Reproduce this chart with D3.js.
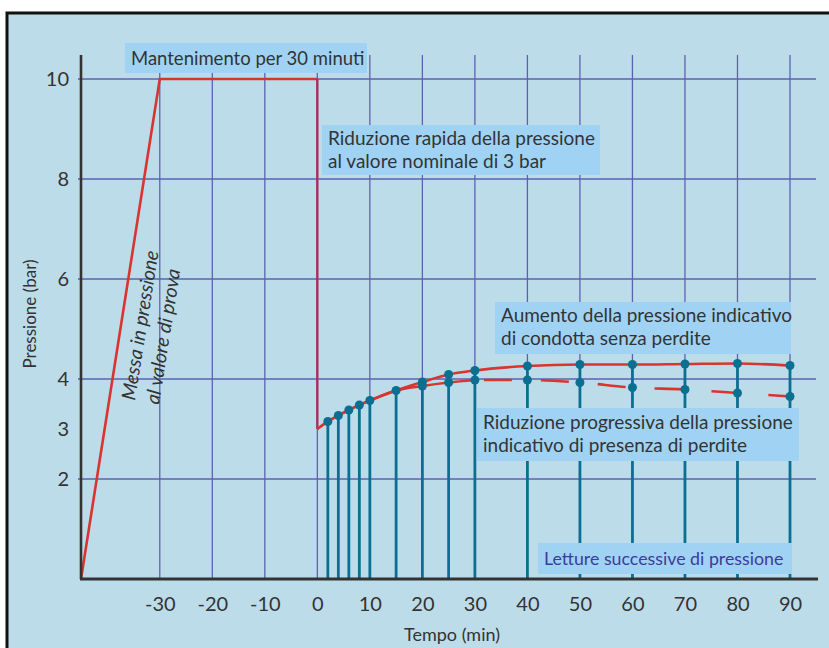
<!DOCTYPE html>
<html>
<head>
<meta charset="utf-8">
<script src="https://cdn.jsdelivr.net/npm/d3@7"></script>
<style>
  body { margin: 0; background: #fff; }
  text { font-family: Lato, "Open Sans", sans-serif; fill: #333; }
</style>
</head>
<body>
<div id="chart"></div>
<script>
// test profile: ramp, hold 30 min, rapid drop to 3 bar
const phaseTimes = [-45, -30, 0, 0];
const phasePressure = [0, 10, 10, 3];

// successive readings
const readTimes = [2, 4, 6, 8, 10, 15, 20, 25, 30, 40, 50, 60, 70, 80, 90];
const noLeak = [3.15, 3.27, 3.38, 3.48, 3.57, 3.77, 3.94, 4.09, 4.17, 4.26, 4.29, 4.29, 4.30, 4.31, 4.27];
const leakTimes = [20, 25, 30, 40, 50, 60, 70, 80, 90];
const leak = [3.86, 3.93, 3.98, 3.98, 3.93, 3.83, 3.79, 3.72, 3.65];

const xTicks = [-30, -20, -10, 0, 10, 20, 30, 40, 50, 60, 70, 80, 90];
const yTicks = [2, 3, 4, 6, 8, 10];
const yGrid = [2, 4, 6, 8, 10];

const W = 829, H = 648;
const svg = d3.select("#chart").append("svg")
  .attr("width", W).attr("height", H);

// frame
svg.append("rect")
  .attr("x", 7).attr("y", 13).attr("width", 840).attr("height", 660)
  .attr("fill", "#bddcea").attr("stroke", "#111").attr("stroke-width", 3);

const x = d3.scaleLinear().domain([-45, 90]).range([81, 790]);
const y = d3.scaleLinear().domain([0, 10]).range([579, 79]);

const gridCol = "#5d62b0";
// vertical grid
svg.append("g").selectAll("line")
  .data(xTicks)
  .join("line")
    .attr("x1", d => x(d)).attr("x2", d => x(d))
    .attr("y1", 55).attr("y2", y(0))
    .attr("stroke", gridCol).attr("stroke-width", 1.3);

// horizontal grid
svg.append("g").selectAll("line")
  .data(yGrid)
  .join("line")
    .attr("x1", 78).attr("x2", 816)
    .attr("y1", d => y(d)).attr("y2", d => y(d))
    .attr("stroke", gridCol).attr("stroke-width", 1.3);

// stems
svg.append("g").selectAll("line")
  .data(readTimes)
  .join("line")
    .attr("x1", d => x(d)).attr("x2", d => x(d))
    .attr("y1", (d, i) => y(noLeak[i])).attr("y2", y(0))
    .attr("stroke", "#0b6f91").attr("stroke-width", 2.8);

// profile
const red = "#d8352f";
svg.append("path")
  .datum(phaseTimes.slice(0, 3).map((t, i) => [t, phasePressure[i]]))
  .attr("d", d3.line().x(d => x(d[0])).y(d => y(d[1])))
  .attr("fill", "none").attr("stroke", red).attr("stroke-width", 2.6);
svg.append("line")
  .attr("x1", x(phaseTimes[2])).attr("x2", x(phaseTimes[3]))
  .attr("y1", y(phasePressure[2])).attr("y2", y(phasePressure[3]))
  .attr("stroke", "#a3315b").attr("stroke-width", 2.4);

const curve = d3.line().x(d => x(d[0])).y(d => y(d[1])).curve(d3.curveMonotoneX);
const start = [phaseTimes[3], phasePressure[3]];
const upperPts = [start].concat(readTimes.map((t, i) => [t, noLeak[i]]));
const earlyPts = [start].concat(readTimes.filter(t => t < 20).map((t, i) => [t, noLeak[i]]));
const lowerPts = earlyPts.concat(leakTimes.map((t, i) => [t, leak[i]]));

const solidLow = lowerPts.filter(d => d[0] <= 30);
const dashLow = lowerPts.filter(d => d[0] >= 15);

svg.append("path").datum(solidLow)
  .attr("d", curve).attr("fill", "none").attr("stroke", red).attr("stroke-width", 2.4);
const dashPath = svg.append("path").datum(dashLow)
  .attr("d", curve).attr("fill", "none").attr("stroke", red).attr("stroke-width", 2.6);
// start dashes just after t=30
const tmp = svg.append("path").datum(lowerPts.filter(d => d[0] >= 15 && d[0] <= 30)).attr("d", curve);
const off = tmp.node().getTotalLength();
tmp.remove();
const dashes = [0, off + 9];
for (let k = 0; k < 10; k++) dashes.push(28, 29);
dashPath.attr("stroke-dasharray", dashes.join(","));

svg.append("path").datum(upperPts)
  .attr("d", curve).attr("fill", "none").attr("stroke", red).attr("stroke-width", 2.6);

// dots
const teal = "#0b6f91";
svg.append("g").selectAll("circle")
  .data(readTimes)
  .join("circle")
    .attr("cx", d => x(d)).attr("cy", (d, i) => y(noLeak[i]))
    .attr("r", 4.5).attr("fill", teal);
svg.append("g").selectAll("circle")
  .data(leakTimes)
  .join("circle")
    .attr("cx", d => x(d)).attr("cy", (d, i) => y(leak[i]))
    .attr("r", 4.5).attr("fill", teal);

// axes
svg.append("line")
  .attr("x1", 81).attr("x2", 81).attr("y1", 55).attr("y2", y(0))
  .attr("stroke", "#333").attr("stroke-width", 2.6);
svg.append("line")
  .attr("x1", 80).attr("x2", 818).attr("y1", y(0)).attr("y2", y(0))
  .attr("stroke", "#333").attr("stroke-width", 3);

const yAxis = svg.append("g")
  .attr("transform", "translate(81,0)")
  .call(d3.axisLeft(y).tickValues(yTicks).tickSize(0).tickPadding(12).tickFormat(d => String(d)));
yAxis.select(".domain").remove();
yAxis.selectAll("text").style("font-size", "20px").attr("fill", "#333");

const xAxis = svg.append("g")
  .attr("transform", `translate(0,${y(0)})`)
  .call(d3.axisBottom(x).tickValues(xTicks).tickSize(0).tickPadding(18).tickFormat(d => String(d)));
xAxis.select(".domain").remove();
xAxis.selectAll("text").style("font-size", "20px").attr("fill", "#333");

svg.append("text")
  .attr("x", 452).attr("y", 641).attr("text-anchor", "middle")
  .style("font-size", "18px").text("Tempo (min)");
svg.append("text")
  .attr("transform", "translate(36,314) rotate(-90)").attr("text-anchor", "middle")
  .style("font-size", "17px").text("Pressione (bar)");

// annotation boxes
const boxFill = "#a0d3f3";
function note(bx, by, bw, bh, lines, opts = {}) {
  svg.append("rect").attr("x", bx).attr("y", by).attr("width", bw).attr("height", bh)
    .attr("fill", boxFill);
  lines.forEach((s, i) => {
    svg.append("text")
      .attr("x", bx + (opts.pad || 6)).attr("y", by + (opts.base || 21) + i * 23)
      .style("font-size", (opts.size || 19) + "px")
      .style("fill", opts.color || "#333")
      .text(s);
  });
}
note(125, 43, 242, 30, ["Mantenimento per 30 minuti"], {base: 22, size: 18.5});
note(322, 125, 278, 50, ["Riduzione rapida della pressione", "al valore nominale di 3 bar"], {base: 20});
note(495, 302, 296, 52, ["Aumento della pressione indicativo", "di condotta senza perdite"], {base: 20});
note(477, 408, 322, 53, ["Riduzione progressiva della pressione", "indicativo di presenza di perdite"], {base: 21});
note(538, 543, 254, 31, ["Letture successive di pressione"], {base: 22, size: 17.8, color: "#3c3c9c"});

// rotated ramp label
const ang = -81;
svg.append("text")
  .attr("transform", `translate(135,401) rotate(${ang})`)
  .style("font-size", "19.5px").style("font-style", "italic")
  .text("Messa in pressione");
svg.append("text")
  .attr("transform", `translate(159,405) rotate(${ang})`)
  .style("font-size", "19.5px").style("font-style", "italic")
  .text("al valore di prova");
</script>
</body>
</html>
